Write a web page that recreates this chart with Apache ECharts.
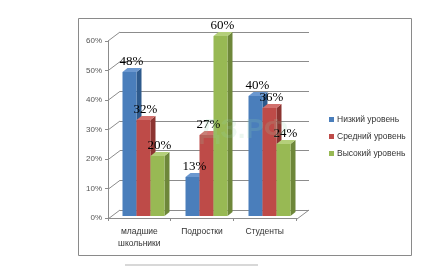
<!DOCTYPE html>
<html><head><meta charset="utf-8">
<script src="https://cdn.jsdelivr.net/npm/echarts@6/dist/echarts.min.js"></script>
<style>html,body{margin:0;padding:0;background:#fff}#c{width:440px;height:267px}</style>
</head><body><div id="c"></div>
<script>
const categories = ['младшие\nшкольники', 'Подростки', 'Студенты'];
const seriesNames = ['Низкий уровень', 'Средний уровень', 'Высокий уровень'];
const low = [0.48, 0.13, 0.40];
const mid = [0.32, 0.27, 0.36];
const high = [0.20, 0.60, 0.24];
const yTicks = [0, 0.1, 0.2, 0.3, 0.4, 0.5, 0.6];

const values = [low, mid, high];
const colors = [
  {front: '#4A7EBB', side: '#2E5A8C', top: '#6B98D0'},
  {front: '#BE4B48', side: '#8C3431', top: '#D2706D'},
  {front: '#98B954', side: '#6E873A', top: '#B4CF7A'}
];
const DX = 5, DY = 4, BW = 14;
const pct = v => Math.round(v * 100) + '%';

const chart = echarts.init(document.getElementById('c'), null, {renderer: 'canvas'});

const barSeries = values.map((arr, s) => ({
  type: 'custom',
  name: seriesNames[s],
  xAxisIndex: 2, yAxisIndex: 2,
  itemStyle: {color: colors[s].front},
  data: arr.map((v, i) => [i, v]),
  z: 10,
  renderItem: function (params, api) {
    const i = api.value(0), v = api.value(1);
    const top = api.coord([i, v]);
    const base = api.coord([i, 0]);
    const x0 = top[0] + (s - 1.5) * BW;
    const x1 = x0 + BW;
    const yt = top[1], yb = base[1];
    const c = colors[s];
    return {
      type: 'group',
      children: [
        {type: 'polygon', shape: {points: [[x1, yt], [x1 + DX, yt - DY], [x1 + DX, yb - DY], [x1, yb]]}, style: {fill: c.side}},
        {type: 'polygon', shape: {points: [[x0, yt], [x0 + DX, yt - DY], [x1 + DX, yt - DY], [x1, yt]]}, style: {fill: c.top}},
        {type: 'rect', shape: {x: x0, y: yt, width: BW, height: yb - yt}, style: {fill: c.front}},
        {type: 'text', x: (x0 + x1) / 2 + 2, y: yt - 10, style: {text: pct(v), fill: '#000', font: '13px "Liberation Serif"', align: 'center', verticalAlign: 'middle'}, z2: 100}
      ]
    };
  }
}));

const option = {
  animation: false,
  backgroundColor: '#fff',
  grid: [
    {left: 108, right: 144, top: 41, bottom: 49},
    {left: 120, right: 131, top: 32, bottom: 57},
    {left: 112, right: 139, top: 36, bottom: 51}
  ],
  xAxis: [
    {gridIndex: 0, type: 'category', data: categories, boundaryGap: true,
     axisLine: {lineStyle: {color: '#8c8c8c', width: 1}},
     axisTick: {show: true, length: 3, lineStyle: {color: '#8c8c8c'}},
     axisLabel: {color: '#333', fontSize: 8.5, fontFamily: 'Liberation Sans', lineHeight: 12, margin: 8}},
    {gridIndex: 1, type: 'value', min: 0, max: 1, show: false},
    {gridIndex: 2, type: 'category', data: categories, show: false}
  ],
  yAxis: [
    {gridIndex: 0, type: 'value', min: 0, max: 0.6, interval: 0.1,
     axisLine: {show: true, lineStyle: {color: '#8c8c8c'}},
     axisTick: {show: true, length: 3, lineStyle: {color: '#8c8c8c'}},
     splitLine: {show: false},
     axisLabel: {color: '#555', fontSize: 8, fontFamily: 'Liberation Sans', margin: 6, formatter: v => pct(v)}},
    {gridIndex: 1, type: 'value', min: 0, max: 0.6, interval: 0.1,
     axisLine: {show: false}, axisTick: {show: false}, axisLabel: {show: false},
     splitLine: {show: true, lineStyle: {color: '#8c8c8c', width: 1}}},
    {gridIndex: 2, type: 'value', min: 0, max: 0.6, show: false}
  ],
  legend: {
    orient: 'vertical', left: 324, top: 110, itemGap: 8,
    icon: 'rect', itemWidth: 5, itemHeight: 5,
    textStyle: {color: '#333', fontSize: 8.5, fontFamily: 'Liberation Sans', padding: [0, 0, 0, -2]},
    data: seriesNames
  },
  series: [
    {
      type: 'custom', xAxisIndex: 1, yAxisIndex: 1, silent: true, z: 1,
      data: yTicks.map(v => [0, v]).concat([[1, 0]]),
      renderItem: function (params, api) {
        const p = api.coord([api.value(0), api.value(1)]);
        return {type: 'line', shape: {x1: p[0], y1: p[1], x2: p[0] - 12, y2: p[1] + 9}, style: {stroke: '#8c8c8c', lineWidth: 1}};
      }
    }
  ].concat(barSeries),
  graphic: [
    {type: 'rect', shape: {x: 78.5, y: 18.5, width: 333, height: 237}, style: {fill: null, stroke: '#8a8a8a', lineWidth: 1}, z: -1},
    {type: 'rect', shape: {x: 125, y: 264, width: 133, height: 2}, style: {fill: '#d8d8d8'}},
    {type: 'text', x: 200, y: 116, style: {text: 'ДЗ.РФ', font: 'bold 28px "Liberation Sans"', fill: 'rgba(150,210,170,0.18)'}, z: 50}
  ]
};
chart.setOption(option);
</script></body></html>
